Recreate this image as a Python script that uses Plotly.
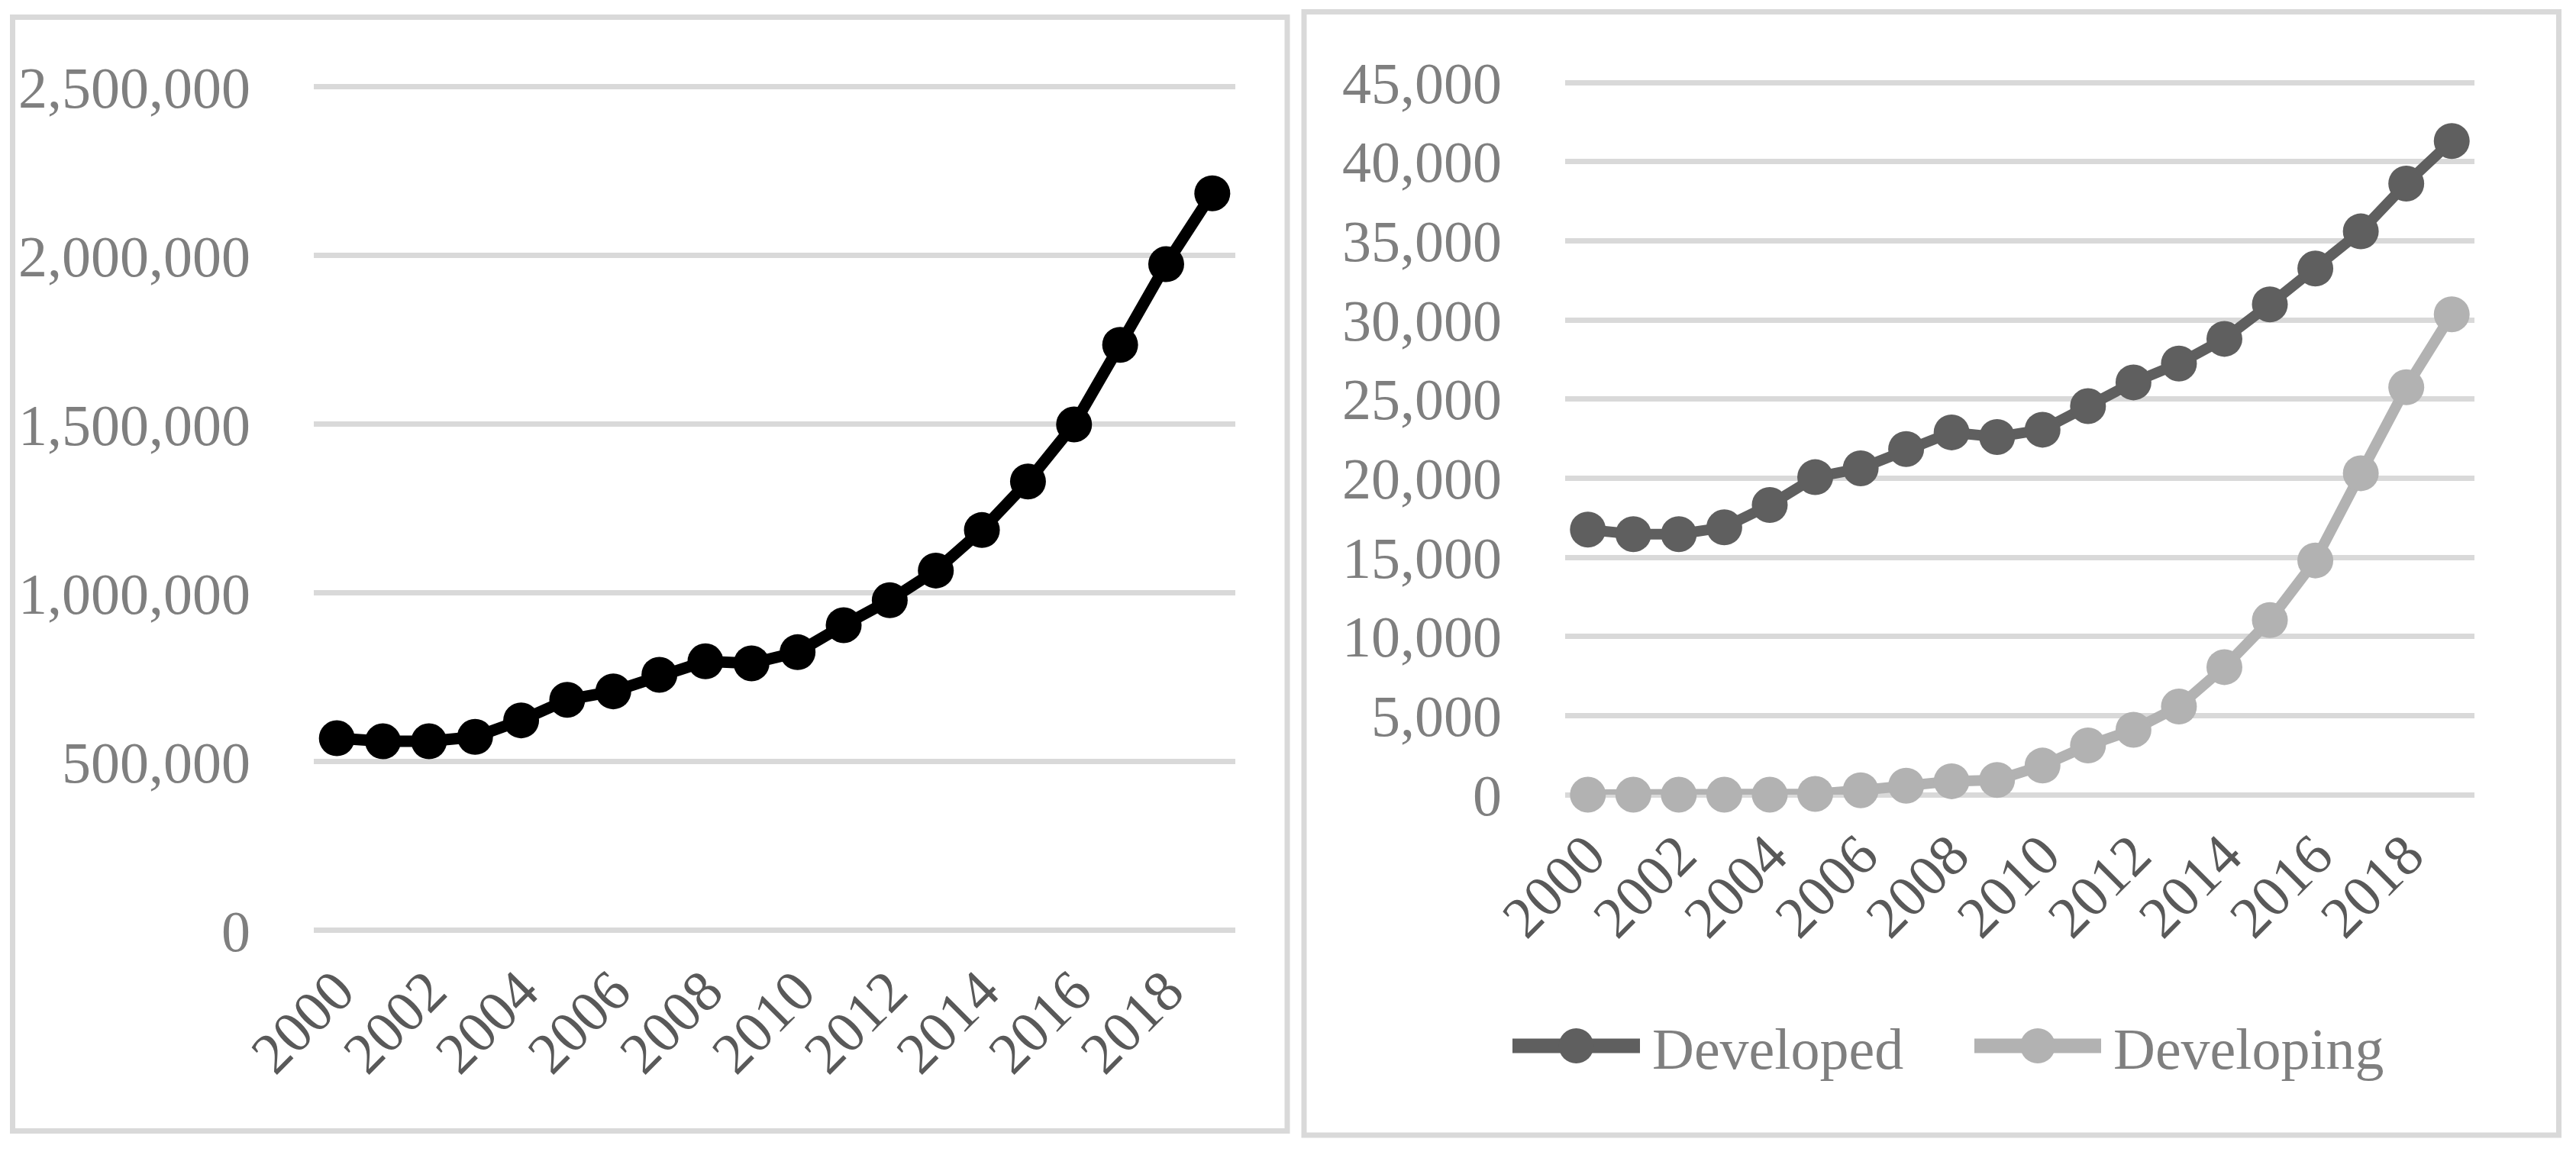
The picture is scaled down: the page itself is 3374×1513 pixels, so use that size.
import plotly.graph_objects as go

# ---------------- data ----------------
years = ["2000", "2001", "2002", "2003", "2004", "2005", "2006", "2007", "2008", "2009",
         "2010", "2011", "2012", "2013", "2014", "2015", "2016", "2017", "2018", "2019"]
tick_years = ["2000", "2002", "2004", "2006", "2008", "2010", "2012", "2014", "2016", "2018"]

total = [570000, 561000, 561000, 574000, 623000, 684000, 709000, 758000, 798000, 792000,
         825000, 905000, 979000, 1067000, 1187000, 1331000, 1500000, 1736000, 1975000, 2185000]

developed = [16750, 16460, 16460, 16890, 18300, 20060, 20620, 21840, 22890, 22600,
             23060, 24550, 26050, 27240, 28800, 30980, 33240, 35590, 38610, 41300]
developing = [0, 0, 0, 0, 0, 50, 280, 570, 850, 930,
              1840, 3110, 4100, 5570, 8060, 11030, 14800, 20310, 25740, 30350]

series_names = ["Developed", "Developing"]

# ---------------- style ----------------
W, H = 3374, 1513
FONT = "Liberation Serif"
FS = 76
GRID = "#d9d9d9"
YLAB = "#7f7f7f"
XLAB = "#595959"
C_TOTAL = "#000000"
C_DEV = "#5f5f5f"
C_DEVING = "#b2b2b2"
LW = 15
MS = 47
EPS = 1.003  # tiny headroom so the top gridline is drawn


def px_x(x):
    return x / W


def px_y(y):
    return (H - y) / H


fig = go.Figure()

fig.add_trace(go.Scatter(x=years, y=total, mode="lines+markers", xaxis="x", yaxis="y",
                         line=dict(color=C_TOTAL, width=LW),
                         marker=dict(color=C_TOTAL, size=MS), cliponaxis=False,
                         showlegend=False, name="Total"))
fig.add_trace(go.Scatter(x=years, y=developed, mode="lines+markers", xaxis="x2", yaxis="y2",
                         line=dict(color=C_DEV, width=LW - 1),
                         marker=dict(color=C_DEV, size=MS), cliponaxis=False,
                         showlegend=False, name=series_names[0]))
fig.add_trace(go.Scatter(x=years, y=developing, mode="lines+markers", xaxis="x2", yaxis="y2",
                         line=dict(color=C_DEVING, width=LW - 1),
                         marker=dict(color=C_DEVING, size=MS), cliponaxis=False,
                         showlegend=False, name=series_names[1]))

xcommon = dict(type="category", categoryorder="array", categoryarray=years,
               range=[-0.5, len(years) - 0.5], showgrid=False, zeroline=False,
               showline=False, ticks="", tickangle=-45, automargin=False,
               tickmode="array", tickvals=tick_years, ticktext=tick_years,
               tickfont=dict(family=FONT, size=FS, color=XLAB), ticklabelstandoff=18)
ycommon = dict(showgrid=True, gridcolor=GRID, gridwidth=7, zeroline=True,
               zerolinecolor=GRID, zerolinewidth=7, showline=False, ticks="",
               automargin=False, ticklabelstandoff=82,
               tickformat=",d", tickfont=dict(family=FONT, size=FS, color=YLAB))

# left: 0 at y=1219px, 2.5M at y=114px ; right: 0 at 1041px, 45k at 108px
l_bot, l_top = 1219, 114
r_bot, r_top = 1041, 108

fig.update_layout(
    template="none",
    width=W, height=H, margin=dict(l=0, r=0, t=0, b=0, pad=0),
    paper_bgcolor="white", plot_bgcolor="white",
    showlegend=False,
    xaxis=dict(domain=[px_x(411), px_x(1618)], anchor="y", **xcommon),
    yaxis=dict(domain=[px_y(l_bot), px_y(l_bot - (l_bot - l_top) * EPS)], anchor="x",
               range=[0, 2500000 * EPS], tickvals=[0, 500000, 1000000, 1500000, 2000000, 2500000],
               **ycommon),
    xaxis2=dict(domain=[px_x(2050), px_x(3241)], anchor="y2", **xcommon),
    yaxis2=dict(domain=[px_y(r_bot), px_y(r_bot - (r_bot - r_top) * EPS)], anchor="x2",
                range=[0, 45000 * EPS],
                tickvals=[0, 5000, 10000, 15000, 20000, 25000, 30000, 35000, 40000, 45000],
                **ycommon),
)

shapes = []
# panel borders
for (x0, y0, x1, y1) in [(16.5, 22.5, 1686, 1481.5), (1708, 15.5, 3351.5, 1487)]:
    shapes.append(dict(type="rect", xref="paper", yref="paper",
                       x0=px_x(x0), x1=px_x(x1), y0=px_y(y1), y1=px_y(y0),
                       line=dict(color=GRID, width=7), fillcolor="rgba(0,0,0,0)", layer="below"))

# custom legend swatches
legend_items = [(series_names[0], C_DEV, 1973, 2156), (series_names[1], C_DEVING, 2578, 2760)]
ly = 1370
annotations = []
for name, col, lx0, lx1 in legend_items:
    shapes.append(dict(type="line", xref="paper", yref="paper",
                       x0=px_x(lx0 + 8), x1=px_x(lx1 - 8), y0=px_y(ly), y1=px_y(ly),
                       line=dict(color=col, width=19)))
    cx = (lx0 + lx1) / 2
    r = 23
    shapes.append(dict(type="circle", xref="paper", yref="paper",
                       x0=px_x(cx - r), x1=px_x(cx + r), y0=px_y(ly + r), y1=px_y(ly - r),
                       line=dict(color=col, width=0), fillcolor=col))
    annotations.append(dict(xref="paper", yref="paper", x=px_x(lx1 + 6), y=px_y(ly + 4),
                            xanchor="left", yanchor="middle", showarrow=False, text=name,
                            font=dict(family=FONT, size=FS, color=YLAB)))

fig.update_layout(shapes=shapes, annotations=annotations)

fig.write_html("out.html", config={"displayModeBar": False},
               post_script="document.body.style.margin='0';")
